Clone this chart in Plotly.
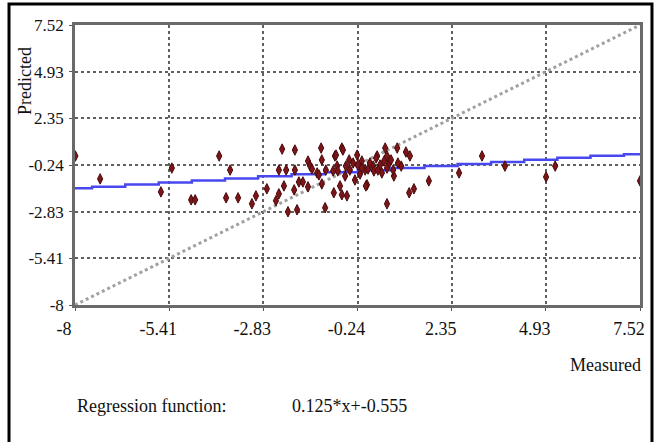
import numpy as np
import plotly.graph_objects as go

# ---- data ----
tick_vals = [-8, -5.41, -2.83, -0.24, 2.35, 4.93, 7.52]
tick_text = ["-8", "-5.41", "-2.83", "-0.24", "2.35", "4.93", "7.52"]

measured = [
    -7.99, -7.31, -5.64, -5.34, -4.81, -4.70, -4.04, -3.74, -3.85, -3.52,
    -3.14, -3.03, -2.73, -2.31, -2.40, -2.20, -1.96, -1.96, -2.48, -2.40,
    -2.26, -2.15, -1.90, -1.98, -1.85, -1.74, -1.60, -1.60, -1.54, -1.35,
    -1.24, -1.22, -1.30, -1.22, -1.13, -1.11, -0.86, -0.89, -0.80, -0.72,
    -0.67, -0.78, -0.53, -0.67, -0.36, -0.25, -0.31, -0.45, -0.03, 0.02,
    -0.12, 0.19, 0.30, 0.43, 0.52, 0.57, 0.63, 0.57, 0.76, 0.85,
    0.96, 1.09, 1.20, 1.18, 1.31, 1.72, 0.05, 0.21, 0.38, 0.57,
    -0.17, -0.58, -0.91, 2.55, 3.18, 3.81, 4.94, 5.19, 7.52, -0.01,
    -0.47, -1.49, 0.27, 0.74, -0.23, 0.10, 0.32, 0.49, 0.68, 0.87,
    -0.56, -0.12, -0.83, -0.64,
]
predicted = [
    0.26, -1.01, -1.73, -0.41, -2.17, -2.17, 0.26, -0.52, -2.06, -2.06,
    -2.39, -1.95, -1.56, 0.64, -0.52, -0.52, 0.59, -0.52, -2.22, -1.84,
    -1.40, -2.83, -2.72, -1.62, -1.18, -1.18, -1.45, -0.02, -0.30, -0.68,
    0.70, 0.04, -0.79, -1.29, -2.61, -0.52, 0.26, -1.78, -0.30, -1.40,
    0.70, -0.57, -1.95, -1.89, -0.13, 0.31, -1.07, -0.52, -0.52, -1.34,
    -0.02, -0.30, 0.26, -0.68, 0.70, 0.26, -0.13, -2.39, -0.85, 0.70,
    -0.30, 0.48, 0.26, -1.78, -1.56, -1.12, -0.46, -0.57, -0.24, -0.41,
    -0.74, -0.85, -0.57, -0.68, 0.26, -0.30, -0.90, -0.30, -1.12, -1.40,
    0.04, -0.46, 0.15, -0.52, -0.24, -0.13, -0.52, -0.02, 0.04, -0.13,
    -0.30, -0.41, 0.31, 0.59,
]

reg_slope = 0.125
reg_intercept = -0.555
# x breakpoints of the drawn (staircase) regression line
reg_breaks = [-7.53, -6.62, -5.70, -4.79, -3.88, -2.97, -2.05, -1.14, -0.23,
              0.69, 1.60, 2.51, 3.43, 4.34, 5.25, 6.16, 7.08]
x_min, x_max = -8, 7.52

# ---- regression staircase ----
edges = [x_min] + reg_breaks + [x_max]
step_x = edges[:-1] + [x_max]
mids = [(a + b) / 2 for a, b in zip(edges[:-1], edges[1:])]
step_y = [reg_slope * m + reg_intercept for m in mids]
step_y = step_y + [step_y[-1]]

fig = go.Figure()

fig.add_trace(go.Scatter(
    x=[x_min, x_max], y=[x_min, x_max], mode="lines",
    line=dict(color="#a0a0a0", width=3, dash="dot"),
    hoverinfo="skip", showlegend=False,
))
fig.add_trace(go.Scatter(
    x=step_x, y=step_y, mode="lines", line_shape="hv",
    line=dict(color="#4848f0", width=2.5),
    showlegend=False,
))
fig.add_trace(go.Scatter(
    x=measured, y=predicted, mode="markers", cliponaxis=False,
    marker=dict(symbol="diamond-tall", size=7.5, color="#7d1518",
                line=dict(color="#4a0a0c", width=1)),
    showlegend=False,
))

serif = "Liberation Serif, Times New Roman, serif"
axis_common = dict(
    range=[x_min, x_max], tickvals=tick_vals, ticktext=tick_text,
    showgrid=True, gridcolor="#606060", griddash="dot", gridwidth=2,
    zeroline=False, showline=True, linecolor="#6a6a6a", linewidth=2.5,
    mirror=True, ticks="outside", ticklen=3, tickcolor="#555555",
)

fig.update_layout(
    width=658, height=442,
    margin=dict(l=75, r=18, t=25, b=137),
    paper_bgcolor="white", plot_bgcolor="white",
    xaxis=dict(**axis_common, ticklabelstandoff=3, ticklabelshift=-11,
               tickfont=dict(family=serif, size=18, color="#111111")),
    yaxis=dict(**axis_common, ticklabelstandoff=2,
               tickfont=dict(family=serif, size=17, color="#111111")),
    font=dict(family=serif, size=18, color="#111111"),
    shapes=[dict(type="rect", xref="paper", yref="paper",
                 x0=-0.1168, x1=1.0212, y0=-0.6, y1=1.075,
                 line=dict(color="black", width=3), layer="below")],
    annotations=[
        dict(text="Predicted", xref="paper", yref="paper", x=-0.0885, y=0.80,
             xanchor="center", yanchor="middle",
             textangle=-90, showarrow=False, font=dict(size=18)),
        dict(text="Measured", xref="paper", yref="paper", x=1.006, y=-0.214,
             xanchor="right", yanchor="middle", showarrow=False, font=dict(size=18)),
        dict(text="Regression function:", xref="paper", yref="paper", x=0.0,
             y=-0.361, xanchor="left", yanchor="middle", showarrow=False,
             font=dict(size=18)),
        dict(text=f"{reg_slope}*x+{reg_intercept}", xref="paper", yref="paper",
             x=0.381, y=-0.361, xanchor="left", yanchor="middle", showarrow=False,
             font=dict(size=18)),
    ],
)

fig.write_html("out.html")
